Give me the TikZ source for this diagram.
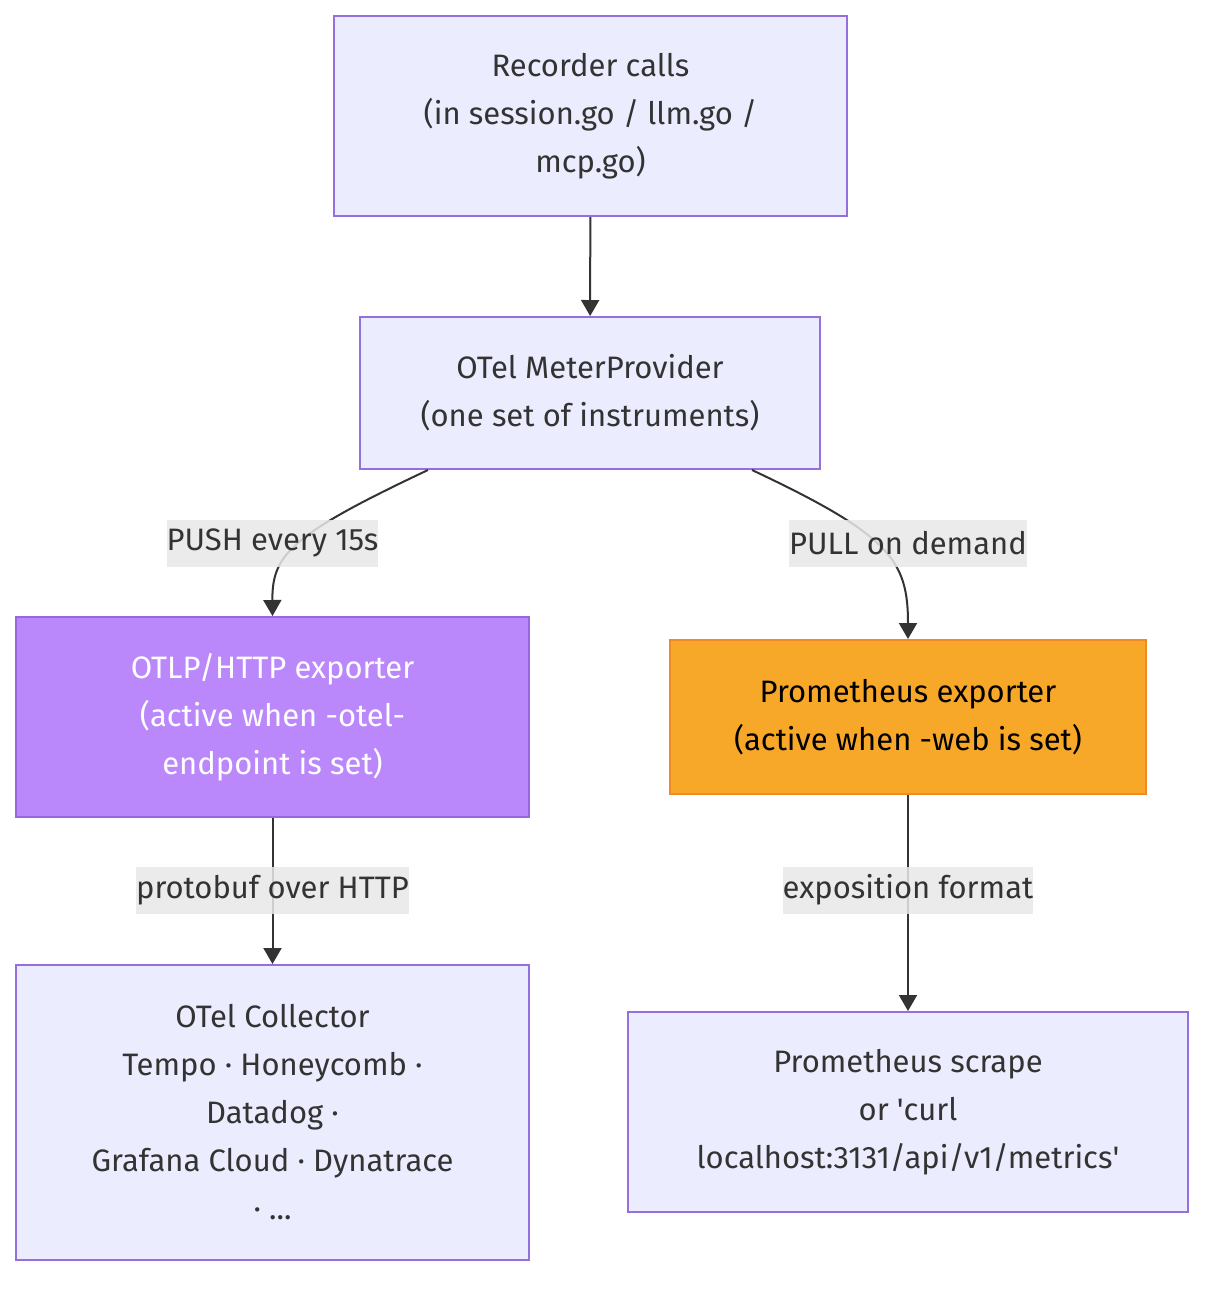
\documentclass[tikz,border=0pt]{standalone}
\usepackage{fontspec}
\setmainfont{Fira Sans}
\usetikzlibrary{arrows.meta,positioning}
\definecolor{boxfill}{HTML}{ECECFF}
\definecolor{boxline}{HTML}{9370DB}
\definecolor{edgeline}{HTML}{333333}
\definecolor{otlpfill}{HTML}{BB88FC}
\definecolor{otlpline}{HTML}{9966DD}
\definecolor{promfill}{HTML}{F8A829}
\definecolor{promline}{HTML}{F08A24}
\definecolor{labelfill}{HTML}{E8E8E8}
\tikzset{
  flowbox/.style={draw=boxline, fill=boxfill, line width=1pt, align=center,
    text=edgeline, inner sep=0pt, font=\fontsize{15.5}{24}\selectfont},
  edgelabel/.style={fill=labelfill, fill opacity=0.85, text opacity=1,
    text=edgeline, inner xsep=0pt, inner ysep=0pt, minimum height=23.5pt,
    font=\fontsize{15.5}{24}\selectfont},
  flow/.style={draw=edgeline, line width=1pt, -{Triangle[length=8pt,width=9pt]}}
}
\begin{document}
\begin{tikzpicture}[x=0.5pt, y=-0.5pt]
  \useasboundingbox (0,0) rectangle (1220,1292);

  % --- CÁC KHỐI ---
  \node[flowbox, minimum width=256.5pt, minimum height=100pt] (rec) at (590.5,116)
    {Recorder calls\\(in session.go / llm.go /\\mcp.go)};
  \node[flowbox, minimum width=230pt, minimum height=76pt] (meter) at (590,393)
    {OTel MeterProvider\\(one set of instruments)};
  \node[flowbox, draw=otlpline, fill=otlpfill, text=white,
    minimum width=256.5pt, minimum height=100pt] (otlp) at (272.5,717)
    {OTLP/HTTP exporter\\(active when -otel-\\endpoint is set)};
  \node[flowbox, draw=promline, fill=promfill, text=black,
    minimum width=238pt, minimum height=77pt] (prom) at (908,717)
    {Prometheus exporter\\(active when -web is set)};
  \node[flowbox, minimum width=256.5pt, minimum height=147.5pt] (coll) at (272.5,1112.5)
    {OTel Collector\\Tempo · Honeycomb ·\\Datadog ·\\Grafana Cloud · Dynatrace\\· ...};
  \node[flowbox, minimum width=280pt, minimum height=100pt] (scrape) at (908,1112)
    {Prometheus scrape\\or \textquotesingle curl\\localhost:3131/api/v1/metrics\textquotesingle};

  % --- CÁC MŨI TÊN ---
  \draw[flow] (rec) -- (meter);
  \draw[flow] ([xshift=-81pt]meter.south) .. controls (290,535) and (272,555) .. (otlp.north);
  \draw[flow] ([xshift=81pt]meter.south) .. controls (890,535) and (908,560) .. (prom.north);
  \draw[flow] (otlp) -- (coll);
  \draw[flow] (prom) -- (scrape);

  % --- NHÃN ---
  \node[edgelabel] (pushlbl) at (272.5,543) {PUSH every 15s};
  \node[edgelabel] (pulllbl) at (908,543) {PULL on demand};
  \node[edgelabel] (protolbl) at (272.5,890) {protobuf over HTTP};
  \node[edgelabel] (expolbl) at (908,890) {exposition format};
\end{tikzpicture}
\end{document}
